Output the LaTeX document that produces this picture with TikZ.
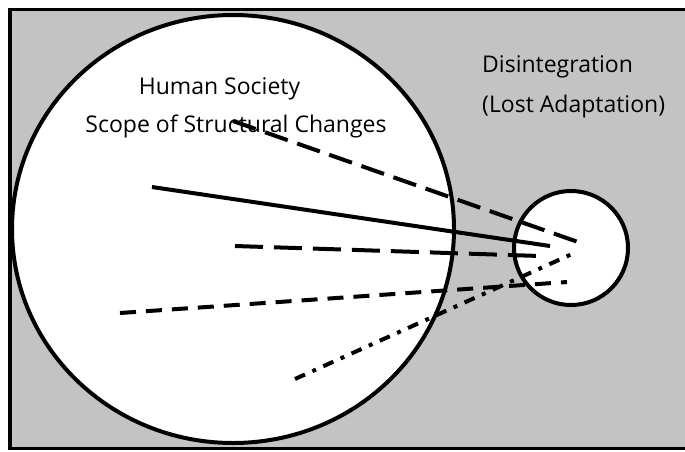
\documentclass[tikz,border=0pt]{standalone}
\usepackage{fontspec}
\setmainfont{Open Sans}
\usetikzlibrary{shapes.geometric}
\definecolor{bggray}{RGB}{195,195,195}
\begin{document}
\begin{tikzpicture}[x=1pt,y=-1pt,
  lbl/.style={inner sep=0pt,font=\fontsize{23}{27}\selectfont},
  ring/.style={draw=black,line width=4pt,fill=white,inner sep=0pt},
  conn/.style={line width=4pt,black},
  longdash/.style={conn,dash pattern=on 24pt off 10pt},
  meddash/.style={conn,dash pattern=on 28pt off 11pt},
  shortdash/.style={conn,dash pattern=on 16pt off 10pt},
  dashdotted/.style={conn,dash pattern=on 11pt off 8pt on 4pt off 8pt}]
\useasboundingbox (0,0) rectangle (685,451);
\clip (0,0) rectangle (685,451);
\fill[white] (0,0) rectangle (685,451);
\draw[fill=bggray,line width=3.5pt] (10,9.5) rectangle (720,448.5);
\node[ring,ellipse,minimum width=442pt,minimum height=428pt] (society) at (233,229) {};
\node[ring,circle,minimum size=114pt] (dis) at (571,248) {};
\node[lbl,anchor=base] (hs) at (219.5,94) {Human Society};
\node[lbl,anchor=base] (scope) at (236,132) {Scope of Structural Changes};
\node[lbl,anchor=base west] (disint) at (482,72) {Disintegration};
\node[lbl,anchor=base west] (lost) at (482,112) {(Lost Adaptation)};
\coordinate (s1) at (233,121);
\coordinate (e1) at (578,242);
\coordinate (s2) at (152,187);
\coordinate (e2) at (550,246);
\coordinate (s3) at (235,246);
\coordinate (e3) at (540,256);
\coordinate (s4) at (120,313);
\coordinate (e4) at (567,282);
\coordinate (s5) at (295,379);
\coordinate (e5) at (572,254);
\draw[longdash] (s1) -- (e1);
\draw[conn] (s2) -- (e2);
\draw[meddash] (s3) -- (e3);
\draw[shortdash] (s4) -- (e4);
\draw[dashdotted] (s5) -- (e5);
\end{tikzpicture}
\end{document}
